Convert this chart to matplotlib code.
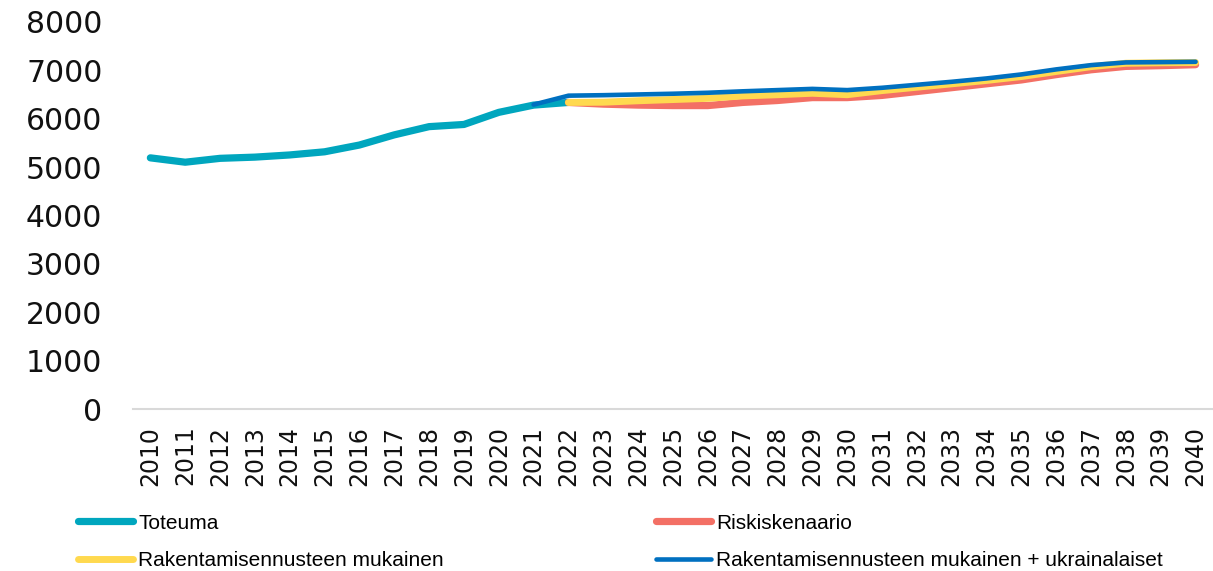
import matplotlib
matplotlib.use("Agg")
import matplotlib.pyplot as plt
from matplotlib import font_manager

years = list(range(2010, 2041))

toteuma_years = list(range(2010, 2023))
toteuma = [5190, 5100, 5180, 5205, 5250, 5315, 5455, 5665, 5835, 5880, 6130, 6280, 6335]

forecast_years = list(range(2022, 2041))
riski = [6335, 6300, 6280, 6270, 6270, 6335, 6375, 6435, 6435, 6480, 6560, 6640,
         6720, 6800, 6910, 7010, 7080, 7095, 7115]
rakentaminen = [6335, 6340, 6370, 6395, 6420, 6470, 6495, 6525, 6495, 6580, 6650, 6720,
                6790, 6870, 6975, 7075, 7145, 7155, 7160]

ukraina_years = list(range(2021, 2041))
ukraina = [6290, 6475, 6485, 6500, 6515, 6535, 6565, 6590, 6615, 6590, 6638, 6700, 6762,
           6831, 6914, 7018, 7106, 7162, 7168, 7175]

names = ["Toteuma", "Riskiskenaario", "Rakentamisennusteen mukainen",
         "Rakentamisennusteen mukainen + ukrainalaiset"]
colors = ["#00A6BE", "#F37065", "#FFD94F", "#0070C0"]

installed = {f.name for f in font_manager.fontManager.ttflist}
legend_font = "Liberation Sans Narrow" if "Liberation Sans Narrow" in installed else "Liberation Sans"

fig = plt.figure(figsize=(12.13, 5.71), dpi=100)
ax = fig.add_axes([0.1096, 0.2837, 0.8904, 0.678])

l1, = ax.plot(toteuma_years, toteuma, color=colors[0], lw=5.2, solid_capstyle="round",
              solid_joinstyle="round", zorder=2)
l2, = ax.plot(forecast_years, riski, color=colors[1], lw=5.2, solid_capstyle="round",
              solid_joinstyle="round", zorder=3)
l3, = ax.plot(forecast_years, rakentaminen, color=colors[2], lw=5.0, solid_capstyle="round",
              solid_joinstyle="round", zorder=4)
l4, = ax.plot(ukraina_years, ukraina, color=colors[3], lw=3.3, solid_capstyle="round",
              solid_joinstyle="round", zorder=5)

ax.set_xlim(2009.5, 2040.5)
ax.set_ylim(0, 8000)
ax.set_yticks(range(0, 8001, 1000))
ax.set_xticks(years)
ax.set_xticklabels([str(y) for y in years], rotation=90)

for s in ["top", "right", "left"]:
    ax.spines[s].set_visible(False)
ax.spines["bottom"].set_color("#D9D9D9")
ax.spines["bottom"].set_linewidth(1.5)
ax.tick_params(axis="both", length=0)
ax.tick_params(axis="y", labelsize=21.5, pad=22, labelcolor="#111111")
ax.tick_params(axis="x", labelsize=17, pad=12, labelcolor="#111111")

leg_kw = dict(loc="upper left", frameon=False, borderpad=0, borderaxespad=0,
              handlelength=2.65, handletextpad=0.25, labelspacing=0.88,
              prop={"family": legend_font, "size": 15})
leg1 = fig.legend([l1, l3], [names[0], names[2]], bbox_to_anchor=(78 / 1213, 0.1005), **leg_kw)
leg2 = fig.legend([l2, l4], [names[1], names[3]], bbox_to_anchor=(656 / 1213, 0.1005), **leg_kw)

fig.savefig("out.png", dpi=100)
